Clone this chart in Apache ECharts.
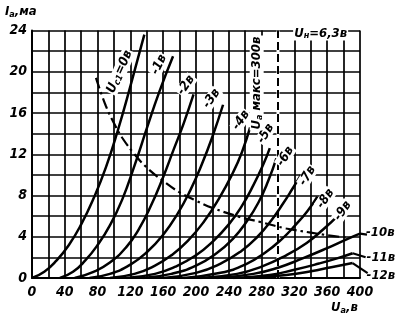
<!DOCTYPE html>
<html><head><meta charset="utf-8">
<script src="https://cdn.jsdelivr.net/npm/echarts@6/dist/echarts.min.js"></script>
<style>html,body{margin:0;padding:0;background:#fff}#c{width:400px;height:323px}</style>
</head><body><div id="c"></div>
<script>
// ---- data (Ua in volts, Ia in mA) ----
const xTickLabels = [0,40,80,120,160,200,240,280,320,360,400];
const yTickLabels = [0,4,8,12,16,20,24];
const gridVoltages = ['0','-1','-2','-3','-4','-5','-6','-7','-8','-9','-10','-11','-12'];
const c0  = [[0,0],[15,0.6],[30,1.7],[45,3.2],[60,5.2],[75,7.7],[90,10.7],[105,14.4],[120,18.6],[137,23.6]];
const c1  = [[34,0],[50,0.6],[65,1.7],[80,3.2],[95,5.1],[110,7.6],[125,10.9],[140,14.5],[155,18],[172,21.5]];
const c2  = [[52,0],[75,0.6],[95,1.5],[115,3],[130,4.7],[145,7],[160,9.8],[172,12.3],[185,15],[197,17.8]];
const c3  = [[70,0],[95,0.4],[120,1.3],[140,2.5],[160,4.2],[178,6.3],[193,8.5],[207,11],[220,13.7],[233,16.8]];
const c4  = [[95,0],[125,0.4],[150,1.2],[170,2.2],[190,3.6],[210,5.5],[228,7.7],[245,10.2],[256,12.2],[266,14.6]];
const c5  = [[115,0],[150,0.4],[175,1.1],[200,2.2],[220,3.5],[240,5.2],[256,7],[270,9],[282,11],[290,12.6]];
const c6  = [[135,0],[170,0.4],[200,1.2],[225,2.4],[245,3.8],[262,5.5],[276,7.3],[288,9.4],[298,11.6]];
const c7  = [[160,0],[200,0.5],[230,1.4],[255,2.6],[275,4],[292,5.6],[306,7.2],[318,8.7],[328,10]];
const c8  = [[185,0],[230,0.5],[260,1.3],[285,2.5],[305,3.8],[322,5.2],[336,6.5],[348,7.9]];
const c9  = [[205,0],[250,0.4],[280,1.1],[310,2.2],[335,3.4],[355,4.7],[375,6.2]];
const c10 = [[225,0],[270,0.4],[300,1],[330,1.9],[360,2.9],[385,3.8],[400,4.3]];
const c11 = [[245,0],[290,0.3],[320,0.8],[350,1.4],[372,1.9],[391,2.4]];
const c12 = [[265,0],[310,0.3],[340,0.65],[365,1.05],[391,1.45]];
const pMax = [[78,19.4],[90,16.7],[100,15],[110,13.6],[125,12],[140,10.7],[160,9.4],[180,8.3],[200,7.5],[220,6.8],[250,6],[280,5.4],[310,4.8],[340,4.4],[360,4.15],[385,3.9]];
const uaMax = [[300,0],[300,24]];
const curves = [c0,c1,c2,c3,c4,c5,c6,c7,c8,c9,c10,c11,c12];

// ---- chart ----
const FONT = '"Liberation Sans Narrow","DejaVu Sans Condensed","Liberation Sans",sans-serif';
const chart = echarts.init(document.getElementById('c'), null, {renderer:'canvas'});
const txt = {fontFamily:FONT, fontStyle:'italic', fontWeight:'bold', color:'#000'};
const series = curves.map((d,i)=>({
  name: gridVoltages[i], type:'line', data:d, smooth:0.5,
  showSymbol:false, silent:true, z:4, lineStyle:{color:'#000', width:2.5}
}));
series.push({type:'line', data:uaMax, showSymbol:false, silent:true, z:2, lineStyle:{color:'#fff', width:3}});
series.push({type:'line', data:uaMax, showSymbol:false, silent:true, z:3, lineStyle:{color:'#000', width:2, type:[8,4]}});
series.push({type:'line', data:pMax, smooth:0.4, showSymbol:false, silent:true, z:3, lineStyle:{color:'#000', width:2.2, type:[11,4,2.5,4]}});

chart.setOption({
  animation:false,
  backgroundColor:'#fff',
  grid:{left:32, right:40, top:30.5, bottom:45, containLabel:false},
  xAxis:{type:'value', min:0, max:400, interval:20,
    axisLine:{show:true, lineStyle:{color:'#000', width:2}}, axisTick:{show:false},
    splitLine:{show:true, lineStyle:{color:'#000', width:1.7}},
    axisLabel:Object.assign({fontSize:14, margin:7, formatter:v=>xTickLabels.includes(v)?String(v):''}, txt)},
  yAxis:{type:'value', min:0, max:24, interval:2,
    axisLine:{show:true, lineStyle:{color:'#000', width:2}}, axisTick:{show:false},
    splitLine:{show:true, lineStyle:{color:'#000', width:1.7}},
    axisLabel:Object.assign({fontSize:14, margin:5, formatter:v=>yTickLabels.includes(v)?String(v):''}, txt)},
  series: series
});

// ---- annotations ----
const P = (x,y)=>chart.convertToPixel({gridIndex:0},[x,y]);
const rich = {
  sub:Object.assign({fontSize:9, padding:[5,0,0,0]}, txt),
  n:Object.assign({fontSize:13}, txt)
};
function lab(text, ua, ia, rotDeg, size){
  const p = P(ua, ia);
  return {type:'text', x:p[0], y:p[1], rotation:rotDeg*Math.PI/180, z:10,
    style:Object.assign({text:text, fontSize:size||13, align:'center', verticalAlign:'middle',
      rich:rich, backgroundColor:'#fff', padding:[0,1]}, txt)};
}
const curveLabels = [
  ['{n|U}{sub|c1}{n|=0в}', 107, 20, 66],
  ['-1в', 155, 20.7, 64],
  ['-2в', 188, 18.7, 55],
  ['-3в', 219, 17.4, 55],
  ['-4в', 255, 15.3, 55],
  ['-5в', 285, 14.0, 58],
  ['-6в', 309, 11.8, 58],
  ['-7в', 336, 9.9, 58],
  ['-8в', 358, 7.7, 55],
  ['-9в', 379, 6.5, 55]
];
const g = curveLabels.map(a=>lab(a[0],a[1],a[2],a[3]));
g.push(lab('{n|U}{sub|а}{n| макс=300в}', 274, 18.9, 90));
g.push(lab('{n|U}{sub|н}{n|=6,3в}', 352, 23.7, 0));
// right-side labels with leaders
const r10 = P(400,4.3), r11 = P(391,2.4), r12 = P(391,1.45);
g.push({type:'polyline', z:9, shape:{points:[r10,[r10[0]+7,r10[1]+1]]}, style:{stroke:'#000', lineWidth:2.4, fill:null}});
g.push({type:'polyline', z:9, shape:{points:[r11,[r11[0]+13,r11[1]+4]]}, style:{stroke:'#000', lineWidth:2.2, fill:null}});
g.push({type:'polyline', z:9, shape:{points:[r12,[r12[0]+15,r12[1]+10]]}, style:{stroke:'#000', lineWidth:2.2, fill:null}});
function side(text, px, py){
  return {type:'text', x:px, y:py, z:10, style:Object.assign({text:text, fontSize:13, align:'left', verticalAlign:'middle', rich:rich}, txt)};
}
g.push(side('-10в', r10[0]+6, r10[1]-1));
g.push(side('-11в', r11[0]+14, r11[1]+4));
g.push(side('-12в', r12[0]+14, r12[1]+13));
// axis titles
g.push({type:'text', x:5, y:12, z:10, style:Object.assign({text:'{n|I}{sub|а}{n|,ма}', fontSize:13, verticalAlign:'middle', rich:rich}, txt)});
g.push({type:'text', x:331, y:308, z:10, style:Object.assign({text:'{n|U}{sub|а}{n|,в}', fontSize:14, verticalAlign:'middle', rich:rich}, txt)});
chart.setOption({graphic:g});
</script>
</body></html>
